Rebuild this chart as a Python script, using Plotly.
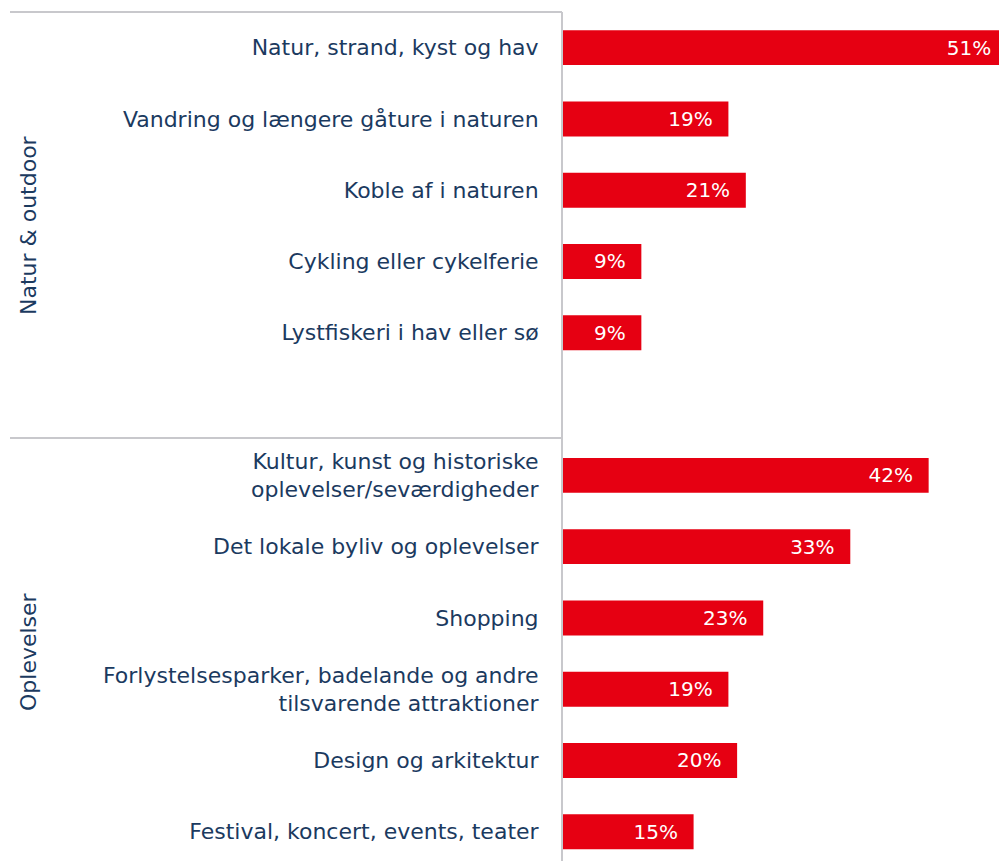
import plotly.graph_objects as go

categories = [
    "Natur, strand, kyst og hav",
    "Vandring og længere gåture i naturen",
    "Koble af i naturen",
    "Cykling eller cykelferie",
    "Lystfiskeri i hav eller sø",
    "",
    "Kultur, kunst og historiske<br>oplevelser/seværdigheder",
    "Det lokale byliv og oplevelser",
    "Shopping",
    "Forlystelsesparker, badelande og andre<br>tilsvarende attraktioner",
    "Design og arkitektur",
    "Festival, koncert, events, teater",
]
values = [51, 19, 21, 9, 9, None, 42, 33, 23, 19, 20, 15]
groups = ["Natur & outdoor", "Oplevelser"]

TXT = "#1b3a5f"
RED = "#e60012"
GRID = "#c8c8cc"
FONT = "DejaVu Sans"

pos = list(range(len(categories)))
labels = [f"{v}%\u00a0\u00a0" if v is not None else "" for v in values]

# page has an 8px body margin; figure coords = page coords - 8
FW, FH = 999, 853
L, W = 555, 444
T, H = 4, 849

fig = go.Figure(go.Bar(
    x=values, y=pos, orientation="h",
    marker=dict(color=RED, line=dict(width=0)),
    width=0.49,
    text=labels, textposition="inside", insidetextanchor="end",
    textfont=dict(color="white", size=20, family=FONT),
    cliponaxis=False,
))

fig.update_layout(
    width=FW, height=FH,
    margin=dict(l=L, r=FW - L - W, t=T, b=FH - T - H, pad=0),
    paper_bgcolor="white", plot_bgcolor="white",
    showlegend=False,
    font=dict(family=FONT, color=TXT, size=22),
    uniformtext=dict(minsize=20, mode="show"),
)
fig.update_xaxes(range=[0, 51], visible=False, fixedrange=True)
fig.update_yaxes(
    tickvals=pos, ticktext=categories,
    range=[11.41, -0.5],
    showline=True, linecolor=GRID, linewidth=2,
    showgrid=False, zeroline=False, ticks="",
    ticklabelstandoff=18,
    tickfont=dict(size=22, color=TXT, family=FONT),
)

def px_to_paper_x(px):
    return (px - 8 - L) / W

def px_to_paper_y(py):
    return 1 - (py - 8 - T) / H

for y in [12, 438]:
    fig.add_shape(type="line", xref="paper", yref="paper",
                  x0=px_to_paper_x(10), x1=px_to_paper_x(562),
                  y0=px_to_paper_y(y), y1=px_to_paper_y(y),
                  line=dict(color=GRID, width=2))

for g, cy in zip(groups, [225, 652]):
    fig.add_annotation(text=g, xref="paper", yref="paper",
                       x=px_to_paper_x(28), y=px_to_paper_y(cy),
                       textangle=-90, showarrow=False,
                       xanchor="center", yanchor="middle",
                       font=dict(size=22, color=TXT, family=FONT))

fig.write_html("out.html")
